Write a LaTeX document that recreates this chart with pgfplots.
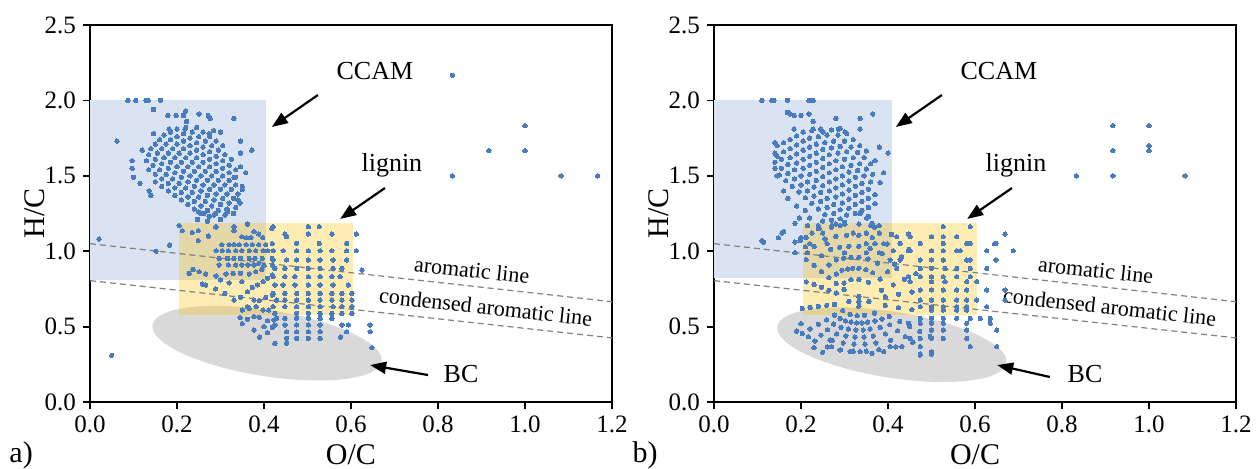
\documentclass[border=0pt]{standalone}
\usepackage{fontspec}
\setmainfont{Liberation Serif}
\usepackage{pgfplots}
\pgfplotsset{compat=1.18}
\usetikzlibrary{arrows.meta,shapes.geometric}
\definecolor{ptc}{RGB}{72,124,190}
\definecolor{boxblue}{RGB}{218,227,241}
\definecolor{yel}{RGB}{255,192,0}
\definecolor{ellc}{RGB}{217,217,217}
\definecolor{dashc}{RGB}{128,128,128}

\pgfplotsset{vk/.style={
  scale only axis, width=261pt, height=188.5pt,
  xmin=0, xmax=1.2, ymin=0, ymax=2.5, clip=false,
  xtick={0,0.2,0.4,0.6,0.8,1.0,1.2}, ytick={0,0.5,1.0,1.5,2.0,2.5},
  /pgf/number format/assume math mode=true,
  tick label style={/pgf/number format/fixed, /pgf/number format/fixed zerofill, /pgf/number format/precision=1, font=\fontsize{12.5}{12.5}\selectfont},
  xtick pos=bottom, ytick pos=left, tick align=outside, major tick length=3.5pt,
  axis line style={line width=0.9pt}, tick style={black, line width=0.9pt},
  xlabel={O/C}, ylabel={H/C},
  label style={font=\fontsize{15}{15}\selectfont},
  xlabel style={at={(axis description cs:0.5,-0.14)}, anchor=center},
  ylabel style={at={(axis description cs:-0.105,0.5)}, anchor=center},
}}
\pgfplotsset{pts/.style={only marks, mark=*, mark size=1.1pt, color=ptc, mark options={draw=ptc, fill=ptc, line width=0pt}}}

\newcommand\toplayer{%
  \fill[yel, opacity=0.3] (axis cs:0.205,0.58) rectangle (axis cs:0.605,1.19);
  \draw[dashc, line width=0.6pt, dash pattern=on 3pt off 2pt] (axis cs:0,1.05) -- (axis cs:1.2,0.665);
  \draw[dashc, line width=0.6pt, dash pattern=on 3pt off 2pt] (axis cs:0,0.805) -- (axis cs:1.2,0.425);
  \node[anchor=base, font=\fontsize{13}{13}\selectfont] at (axis cs:0.655,2.14) {CCAM};
  \node[anchor=base, font=\fontsize{13}{13}\selectfont] at (axis cs:0.694,1.53) {lignin};
  \node[anchor=base, font=\fontsize{13}{13}\selectfont] at (axis cs:0.853,0.13) {BC};
  \node[anchor=base, rotate=-6.3, font=\fontsize{11}{11}\selectfont] at (axis cs:0.876,0.825) {aromatic line};
  \node[anchor=base, rotate=-6.3, font=\fontsize{11}{11}\selectfont] at (axis cs:0.908,0.58) {condensed aromatic line};
}

\begin{document}
\begin{tikzpicture}
\path[use as bounding box] (-45pt,-33pt) rectangle (583.5pt,201pt);

% ---------------- panel a ----------------
\begin{axis}[vk, at={(0pt,0pt)}, anchor=south west]
\fill[boxblue] (axis cs:0,0.81) rectangle (axis cs:0.405,2.0);
\node[ellipse, fill=ellc, minimum width=116pt, minimum height=33pt, inner sep=0pt, rotate=-9] at (axis cs:0.407,0.39) {};
\addplot[pts] coordinates {
(0.15,1.46)(0.165,1.43)(0.18,1.40)(0.195,1.37)(0.21,1.34)(0.225,1.31)(0.24,1.28)(0.255,1.25)
(0.135,1.54)(0.15,1.51)(0.165,1.48)(0.18,1.45)(0.195,1.42)(0.21,1.39)(0.225,1.36)(0.24,1.33)(0.255,1.30)(0.27,1.27)(0.285,1.24)
(0.13,1.60)(0.145,1.57)(0.16,1.54)(0.175,1.51)(0.19,1.48)(0.205,1.45)(0.22,1.42)(0.235,1.39)(0.25,1.36)(0.265,1.33)(0.28,1.30)(0.295,1.27)(0.31,1.24)
(0.135,1.64)(0.15,1.61)(0.165,1.58)(0.18,1.55)(0.195,1.52)(0.21,1.49)(0.225,1.46)(0.24,1.43)(0.255,1.40)(0.27,1.37)(0.285,1.34)(0.30,1.31)(0.315,1.28)(0.33,1.25)
(0.14,1.68)(0.155,1.65)(0.17,1.62)(0.185,1.59)(0.20,1.56)(0.215,1.53)(0.23,1.50)(0.245,1.47)(0.26,1.44)(0.275,1.41)(0.29,1.38)(0.305,1.35)(0.32,1.32)(0.335,1.29)
(0.15,1.71)(0.165,1.68)(0.18,1.65)(0.195,1.62)(0.21,1.59)(0.225,1.56)(0.24,1.53)(0.255,1.50)(0.27,1.47)(0.285,1.44)(0.30,1.41)(0.315,1.38)(0.33,1.35)(0.345,1.32)
(0.16,1.74)(0.175,1.71)(0.19,1.68)(0.205,1.65)(0.22,1.62)(0.235,1.59)(0.25,1.56)(0.265,1.53)(0.28,1.50)(0.295,1.47)(0.31,1.44)(0.325,1.41)(0.34,1.38)
(0.17,1.77)(0.185,1.74)(0.20,1.71)(0.215,1.68)(0.23,1.65)(0.245,1.62)(0.26,1.59)(0.275,1.56)(0.29,1.53)(0.305,1.50)(0.32,1.47)(0.335,1.44)(0.35,1.41)
(0.185,1.79)(0.20,1.76)(0.215,1.73)(0.23,1.70)(0.245,1.67)(0.26,1.64)(0.275,1.61)(0.29,1.58)(0.305,1.55)(0.32,1.52)(0.335,1.49)
(0.20,1.81)(0.215,1.78)(0.23,1.75)(0.245,1.72)(0.26,1.69)(0.275,1.66)(0.29,1.63)(0.305,1.60)(0.32,1.57)(0.335,1.54)
(0.22,1.82)(0.235,1.79)(0.25,1.76)(0.265,1.73)(0.28,1.70)(0.295,1.67)(0.31,1.64)(0.325,1.61)
(0.245,1.82)(0.26,1.79)(0.275,1.76)(0.29,1.73)(0.305,1.70)
(0.087,2.0)(0.105,2.0)(0.129,2.0)(0.134,2.0)(0.162,2.0)
(0.146,1.94)(0.179,1.90)(0.198,1.90)(0.22,1.93)(0.215,1.90)(0.251,1.91)(0.272,1.90)(0.276,1.88)(0.331,1.88)
(0.182,1.81)(0.218,1.81)(0.222,1.86)(0.146,1.78)(0.274,1.78)(0.284,1.80)(0.30,1.79)
(0.346,1.73)(0.372,1.67)(0.346,1.65)(0.346,1.56)(0.358,1.52)(0.331,1.49)(0.35,1.43)(0.34,1.34)(0.315,1.27)
(0.097,1.60)(0.097,1.55)(0.10,1.49)(0.136,1.40)(0.14,1.37)(0.062,1.73)(0.12,1.67)(0.115,1.45)
(0.25,1.26)(0.262,1.25)(0.274,1.23)(0.289,1.25)(0.316,1.26)(0.247,1.21)(0.205,1.17)(0.289,1.16)(0.362,1.18)(0.27,1.20)(0.30,1.21)
(0.021,1.08)(0.152,1.0)(0.183,1.04)(0.05,0.31)
(0.212,1.136)(0.235,1.123)(0.249,1.136)(0.249,1.07)(0.272,1.10)(0.29,1.163)(0.331,1.163)(0.331,1.136)(0.349,1.096)(0.36,1.09)(0.37,1.09)(0.377,1.13)(0.388,1.114)(0.397,1.09)(0.418,1.15)(0.419,1.05)
(0.303,1.043)(0.32,1.043)(0.331,1.043)(0.343,1.043)(0.359,1.043)(0.373,1.043)(0.388,1.043)(0.404,1.043)
(0.29,1.003)(0.304,1.003)(0.318,1.003)(0.335,1.003)(0.349,1.003)(0.366,1.003)(0.381,1.003)(0.398,1.003)(0.408,1.003)
(0.297,0.952)(0.316,0.952)(0.331,0.952)(0.346,0.952)(0.366,0.952)(0.379,0.952)(0.396,0.952)(0.419,0.952)
(0.297,0.909)(0.318,0.909)(0.335,0.909)(0.349,0.909)(0.363,0.909)(0.377,0.909)(0.388,0.92)(0.40,0.905)(0.419,0.909)
(0.237,0.88)(0.251,0.864)(0.266,0.849)(0.29,0.836)(0.313,0.849)(0.329,0.853)(0.346,0.853)(0.366,0.849)(0.381,0.864)(0.395,0.88)(0.228,0.853)
(0.258,0.783)(0.266,0.776)(0.289,0.75)(0.349,0.798)(0.362,0.731)(0.373,0.76)(0.385,0.776)(0.398,0.798)(0.408,0.82)(0.419,0.842)
(0.331,0.676)(0.346,0.694)(0.362,0.632)(0.377,0.676)(0.389,0.672)(0.404,0.694)(0.419,0.71)
(0.35,0.61)(0.366,0.62)(0.382,0.632)(0.398,0.61)(0.411,0.61)(0.31,0.72)(0.32,0.79)(0.30,0.81)
(0.362,0.548)(0.377,0.566)(0.389,0.562)(0.408,0.539)(0.423,0.544)(0.377,0.477)(0.40,0.50)(0.408,0.46)(0.419,0.495)(0.345,0.56)(0.35,0.52)(0.39,0.43)
(0.421,1.163)(0.502,1.163)(0.527,1.163)
(0.448,1.114)(0.502,1.114)(0.556,1.114)(0.452,1.096)
(0.475,1.052)(0.527,1.052)(0.59,1.052)
(0.421,1.003)(0.444,1.003)(0.475,1.003)(0.502,1.003)(0.529,1.003)(0.556,1.003)(0.59,1.003)
(0.421,0.942)(0.452,0.942)(0.475,0.942)(0.502,0.942)(0.529,0.942)(0.559,0.942)(0.59,0.942)
(0.425,0.886)(0.448,0.886)(0.475,0.886)(0.502,0.886)(0.529,0.886)(0.559,0.886)(0.579,0.886)
(0.421,0.831)(0.448,0.831)(0.471,0.831)(0.502,0.831)(0.529,0.831)(0.556,0.831)(0.575,0.831)
(0.425,0.776)(0.444,0.776)(0.471,0.776)(0.502,0.776)(0.529,0.776)(0.559,0.776)(0.594,0.776)
(0.421,0.72)(0.448,0.72)(0.475,0.72)(0.502,0.72)(0.529,0.72)(0.556,0.72)(0.579,0.72)(0.602,0.72)
(0.429,0.676)(0.448,0.676)(0.475,0.676)(0.502,0.676)(0.529,0.676)(0.556,0.676)(0.579,0.676)(0.602,0.676)
(0.421,0.632)(0.448,0.632)(0.475,0.632)(0.502,0.632)(0.529,0.632)(0.559,0.632)(0.579,0.632)(0.602,0.632)
(0.425,0.588)(0.475,0.588)(0.502,0.588)(0.529,0.588)(0.556,0.588)(0.579,0.588)(0.602,0.588)
(0.429,0.555)(0.448,0.555)(0.475,0.555)(0.502,0.555)(0.529,0.555)(0.556,0.555)
(0.425,0.511)(0.448,0.511)(0.475,0.511)(0.502,0.511)(0.529,0.511)(0.579,0.511)(0.594,0.511)(0.644,0.511)
(0.452,0.466)(0.475,0.466)(0.502,0.466)(0.529,0.466)(0.59,0.466)(0.644,0.466)
(0.452,0.422)(0.475,0.422)(0.502,0.422)(0.529,0.422)(0.576,0.43)
(0.425,0.389)(0.452,0.389)(0.648,0.36)
(0.612,1.114)(0.612,1.003)(0.625,0.875)
(0.833,2.167)(1.0,1.833)(0.917,1.667)(1.0,1.667)(0.833,1.5)(1.083,1.5)(1.167,1.5)
};
\toplayer
\draw[-{Triangle[length=8pt,width=6pt]}, line width=1.1pt] (axis cs:0.524,2.036) -- (axis cs:0.418,1.824);
\draw[-{Triangle[length=8pt,width=6pt]}, line width=1.1pt] (axis cs:0.678,1.419) -- (axis cs:0.575,1.214);
\draw[-{Triangle[length=8pt,width=6pt]}, line width=1.1pt] (axis cs:0.777,0.179) -- (axis cs:0.644,0.245);
\node[font=\fontsize{15}{15}\selectfont] at (axis description cs:-0.132,-0.14) {a)};
\end{axis}

% ---------------- panel b ----------------
\begin{axis}[vk, at={(312pt,0pt)}, anchor=south west]
\fill[boxblue] (axis cs:0,0.82) rectangle (axis cs:0.41,2.0);
\node[ellipse, fill=ellc, minimum width=116pt, minimum height=33pt, inner sep=0pt, rotate=-9] at (axis cs:0.409,0.38) {};
\addplot[pts] coordinates {
(0.15,1.505)(0.165,1.468)(0.18,1.43)(0.195,1.393)(0.21,1.355)(0.225,1.318)(0.24,1.28)(0.255,1.243)(0.27,1.205)
(0.14,1.59)(0.155,1.55)(0.17,1.515)(0.185,1.48)(0.20,1.44)(0.215,1.40)(0.23,1.365)(0.245,1.33)(0.26,1.29)(0.275,1.25)(0.29,1.215)
(0.14,1.65)(0.155,1.61)(0.17,1.575)(0.185,1.54)(0.20,1.50)(0.215,1.46)(0.23,1.425)(0.245,1.39)(0.26,1.35)(0.275,1.31)(0.29,1.275)(0.305,1.24)
(0.145,1.70)(0.16,1.66)(0.175,1.62)(0.19,1.585)(0.205,1.55)(0.22,1.51)(0.235,1.47)(0.25,1.435)(0.265,1.40)(0.28,1.36)(0.295,1.32)(0.31,1.285)(0.325,1.25)
(0.16,1.72)(0.175,1.68)(0.19,1.645)(0.205,1.61)(0.22,1.57)(0.235,1.53)(0.25,1.495)(0.265,1.46)(0.28,1.42)(0.295,1.38)(0.31,1.345)(0.325,1.31)(0.34,1.27)(0.355,1.23)
(0.175,1.74)(0.19,1.705)(0.205,1.67)(0.22,1.63)(0.235,1.59)(0.25,1.555)(0.265,1.52)(0.28,1.48)(0.295,1.44)(0.31,1.405)(0.325,1.37)(0.34,1.33)(0.355,1.29)
(0.19,1.765)(0.205,1.73)(0.22,1.69)(0.235,1.65)(0.25,1.615)(0.265,1.58)(0.28,1.54)(0.295,1.50)(0.31,1.465)(0.325,1.43)(0.34,1.39)(0.355,1.35)(0.37,1.315)
(0.205,1.79)(0.22,1.75)(0.235,1.71)(0.25,1.675)(0.265,1.64)(0.28,1.60)(0.295,1.56)(0.31,1.525)(0.325,1.49)(0.34,1.45)(0.355,1.41)(0.37,1.375)
(0.225,1.80)(0.24,1.76)(0.255,1.72)(0.27,1.685)(0.285,1.65)(0.30,1.61)(0.315,1.57)(0.33,1.535)(0.345,1.50)(0.36,1.46)
(0.245,1.81)(0.26,1.77)(0.275,1.73)(0.29,1.695)(0.305,1.66)(0.32,1.62)(0.335,1.58)(0.35,1.545)(0.365,1.51)
(0.27,1.805)(0.285,1.77)(0.30,1.73)(0.315,1.69)(0.33,1.655)(0.345,1.62)(0.36,1.58)
(0.29,1.815)(0.305,1.78)(0.32,1.74)(0.335,1.70)(0.35,1.665)
(0.11,2.0)(0.133,2.0)(0.138,2.0)(0.169,2.0)(0.218,2.0)(0.228,2.0)
(0.169,1.92)(0.175,1.91)(0.184,1.90)(0.2,1.90)(0.218,1.91)(0.28,1.88)(0.336,1.88)(0.365,1.91)
(0.228,1.86)(0.184,1.81)(0.228,1.81)(0.286,1.81)(0.336,1.81)(0.251,1.79)(0.301,1.79)
(0.14,1.72)(0.255,1.72)(0.38,1.69)(0.40,1.65)(0.37,1.60)(0.382,1.455)(0.39,1.52)(0.145,1.63)(0.14,1.55)(0.145,1.50)(0.16,1.40)(0.17,1.35)(0.19,1.30)(0.21,1.27)
(0.186,1.185)(0.196,1.22)(0.156,1.12)(0.16,1.13)(0.148,1.09)(0.11,1.07)(0.114,1.06)(0.186,1.06)(0.2,1.09)(0.186,0.99)(0.336,1.25)(0.351,1.22)(0.363,1.185)(0.22,1.22)(0.25,1.2)(0.28,1.18)(0.3,1.19)(0.24,1.15)(0.27,1.16)(0.21,1.03)(0.198,1.07)
(0.333,0.667)(0.333,0.70)(0.333,0.635)(0.31,0.667)(0.356,0.667)
(0.296,0.606)(0.277,0.576)(0.259,0.545)(0.240,0.515)(0.221,0.485)(0.203,0.454)
(0.290,0.555)(0.275,0.517)(0.261,0.480)(0.246,0.443)(0.232,0.405)
(0.313,0.581)(0.302,0.538)(0.292,0.495)(0.282,0.452)(0.272,0.409)(0.261,0.366)
(0.315,0.530)(0.309,0.484)(0.303,0.438)(0.297,0.392)(0.291,0.347)
(0.329,0.573)(0.328,0.525)(0.326,0.478)(0.324,0.431)(0.322,0.384)(0.320,0.337)
(0.340,0.525)(0.343,0.478)(0.345,0.431)(0.347,0.384)(0.350,0.337)
(0.346,0.575)(0.353,0.530)(0.359,0.484)(0.366,0.438)(0.372,0.392)(0.379,0.347)
(0.370,0.538)(0.382,0.495)(0.394,0.452)(0.406,0.409)(0.418,0.366)
(0.369,0.589)(0.386,0.551)(0.404,0.512)(0.422,0.473)(0.440,0.434)(0.457,0.396)
(0.403,0.567)(0.427,0.534)(0.450,0.501)(0.473,0.468)(0.497,0.435)
(0.299,0.788)(0.281,0.849)(0.264,0.909)(0.247,0.970)(0.230,1.031)(0.212,1.091)
(0.294,0.874)(0.281,0.943)(0.268,1.012)(0.255,1.081)(0.242,1.150)
(0.315,0.811)(0.307,0.882)(0.298,0.954)(0.289,1.026)(0.280,1.098)(0.271,1.170)
(0.319,0.887)(0.315,0.960)(0.310,1.033)(0.305,1.106)(0.301,1.180)
(0.333,0.813)(0.333,0.887)(0.333,0.960)(0.333,1.033)(0.333,1.106)(0.333,1.180)
(0.349,0.878)(0.354,0.949)(0.359,1.019)(0.364,1.090)(0.369,1.160)
(0.355,0.794)(0.365,0.857)(0.376,0.921)(0.387,0.984)(0.398,1.048)(0.408,1.111)
(0.382,0.815)(0.399,0.865)(0.415,0.914)(0.431,0.964)(0.448,1.013)
(0.299,0.746)(0.281,0.786)(0.264,0.825)(0.247,0.865)(0.230,0.905)(0.212,0.944)
(0.281,0.723)(0.264,0.741)(0.247,0.760)(0.230,0.779)(0.212,0.797)
(0.385,0.741)(0.412,0.777)(0.438,0.814)(0.464,0.851)
(0.394,0.699)(0.424,0.714)(0.455,0.730)
(0.394,0.640)(0.424,0.626)(0.455,0.613)
(0.277,0.647)(0.259,0.641)(0.240,0.634)(0.221,0.628)(0.203,0.621)
(0.527,1.163)(0.589,1.163)(0.447,1.114)
(0.42,1.096)(0.451,1.096)(0.50,1.096)(0.527,1.096)(0.558,1.096)
(0.428,1.052)(0.474,1.052)(0.527,1.052)(0.581,1.052)(0.589,1.052)
(0.412,1.003)(0.447,1.003)(0.451,1.003)(0.50,1.003)(0.527,1.003)(0.558,1.003)(0.566,1.003)
(0.405,0.942)(0.428,0.942)(0.474,0.942)(0.50,0.942)(0.527,0.942)(0.581,0.942)(0.589,0.942)
(0.42,0.886)(0.474,0.886)(0.50,0.886)(0.531,0.886)(0.558,0.886)(0.589,0.886)
(0.447,0.831)(0.474,0.831)(0.50,0.831)(0.527,0.831)(0.558,0.831)(0.589,0.831)
(0.451,0.798)(0.50,0.798)(0.531,0.798)(0.581,0.798)
(0.474,0.743)(0.50,0.743)(0.527,0.743)(0.558,0.743)(0.581,0.743)
(0.474,0.676)(0.50,0.676)(0.527,0.676)(0.558,0.676)(0.581,0.676)
(0.474,0.632)(0.50,0.632)(0.527,0.632)(0.558,0.632)(0.581,0.632)
(0.50,0.61)(0.527,0.61)(0.558,0.61)(0.581,0.61)
(0.474,0.555)(0.50,0.555)(0.527,0.555)(0.558,0.555)(0.589,0.555)
(0.447,0.522)(0.474,0.522)(0.50,0.522)(0.527,0.522)(0.581,0.522)
(0.50,0.477)(0.527,0.477)(0.581,0.477)
(0.451,0.422)(0.474,0.422)(0.50,0.422)(0.527,0.422)(0.581,0.422)
(0.405,0.367)(0.432,0.367)(0.474,0.367)(0.589,0.367)
(0.474,0.318)(0.50,0.318)
(0.215,1.17)(0.24,1.17)(0.29,1.17)(0.36,1.17)(0.38,1.17)(0.225,1.12)(0.25,1.12)(0.32,1.12)(0.35,1.12)(0.38,1.12)(0.22,1.05)(0.26,1.05)(0.35,1.05)(0.37,1.05)(0.39,1.05)(0.215,0.99)(0.30,0.99)(0.35,0.99)(0.38,0.99)
(0.217,0.433)(0.267,0.41)(0.27,0.367)(0.29,0.345)(0.313,0.334)(0.336,0.334)(0.363,0.323)(0.39,0.334)(0.474,0.312)(0.5,0.334)(0.19,0.47)(0.20,0.52)(0.23,0.36)(0.25,0.33)
(0.627,1.003)(0.645,1.05)(0.669,1.114)(0.688,1.003)(0.648,0.942)(0.627,0.886)(0.648,1.052)(0.669,0.743)(0.669,0.676)(0.627,0.743)(0.627,0.632)(0.612,0.555)(0.635,0.555)(0.635,0.522)(0.65,0.477)(0.65,0.367)(0.604,0.798)(0.604,0.676)
(0.833,1.5)(0.917,1.5)(0.917,1.667)(0.917,1.833)(1.0,1.833)(1.0,1.667)(1.0,1.7)(1.083,1.5)
};
\toplayer
\draw[-{Triangle[length=8pt,width=6pt]}, line width=1.1pt] (axis cs:0.524,2.036) -- (axis cs:0.418,1.824);
\draw[-{Triangle[length=8pt,width=6pt]}, line width=1.1pt] (axis cs:0.685,1.419) -- (axis cs:0.582,1.214);
\draw[-{Triangle[length=8pt,width=6pt]}, line width=1.1pt] (axis cs:0.772,0.166) -- (axis cs:0.651,0.245);
\node[font=\fontsize{15}{15}\selectfont] at (axis description cs:-0.132,-0.14) {b)};
\end{axis}
\end{tikzpicture}
\end{document}
